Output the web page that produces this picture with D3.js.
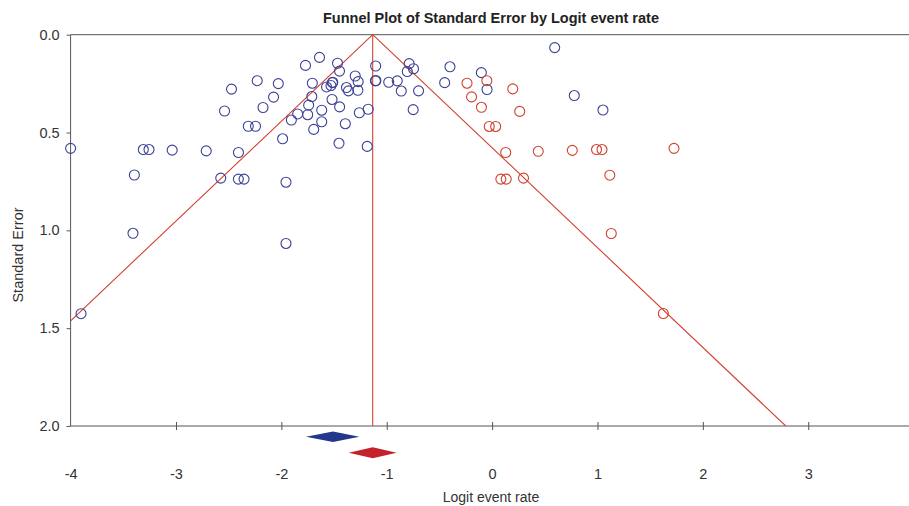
<!DOCTYPE html>
<html>
<head>
<meta charset="utf-8">
<script src="https://cdn.jsdelivr.net/npm/d3@7"></script>
<style>
  body { margin: 0; background: #fff; }
  svg { font-family: "Liberation Sans", Arial, sans-serif; }
  .tick text { fill: #333; font-size: 14.5px; }
  .domain, .tick line { stroke: #555; }
</style>
</head>
<body>
<svg id="chart"></svg>
<script>
// observed studies: [logit event rate, standard error]
const observed = [
  [-4.00, 0.581], [-3.395, 0.717], [-3.310, 0.587], [-3.256, 0.587], [-3.036, 0.590],
  [-2.713, 0.594], [-2.407, 0.602], [-2.575, 0.733], [-2.408, 0.738], [-2.354, 0.738],
  [-3.408, 1.015], [-1.956, 1.067], [-1.956, 0.754], [-1.988, 0.532], [-2.314, 0.468],
  [-2.245, 0.468], [-2.539, 0.390], [-2.473, 0.278], [-2.229, 0.235], [-2.029, 0.250],
  [-2.174, 0.372], [-2.074, 0.319], [-1.771, 0.157], [-1.638, 0.116], [-1.467, 0.146],
  [-1.448, 0.186], [-1.706, 0.248], [-1.711, 0.316], [-1.741, 0.360], [-1.750, 0.409],
  [-1.845, 0.405], [-1.905, 0.436], [-1.617, 0.386], [-1.617, 0.445], [-1.693, 0.484],
  [-1.571, 0.267], [-1.516, 0.245], [-1.512, 0.243], [-1.529, 0.260], [-1.519, 0.331],
  [-1.447, 0.369], [-1.393, 0.455], [-1.453, 0.555], [-1.299, 0.211], [-1.271, 0.240],
  [-1.382, 0.270], [-1.363, 0.287], [-1.274, 0.284], [-1.260, 0.399], [-1.176, 0.381],
  [-1.185, 0.571], [-1.105, 0.160], [-1.107, 0.236], [-1.103, 0.234], [-0.981, 0.243],
  [-0.900, 0.236], [-0.862, 0.288], [-0.805, 0.188], [-0.787, 0.148], [-0.746, 0.174],
  [-0.698, 0.287], [-0.749, 0.383], [-0.450, 0.245], [-0.400, 0.164], [0.594, 0.066],
  [-0.102, 0.194], [-0.048, 0.280], [0.780, 0.311], [1.052, 0.385], [-3.901, 1.426]
];

// imputed studies (trim and fill)
const imputed = [
  [-0.238, 0.248], [-0.050, 0.235], [0.196, 0.277], [-0.195, 0.318], [-0.101, 0.371],
  [0.262, 0.392], [-0.027, 0.469], [0.034, 0.469], [0.129, 0.602], [0.438, 0.596],
  [0.761, 0.591], [0.991, 0.587], [1.043, 0.587], [1.726, 0.581], [0.083, 0.738],
  [0.134, 0.738], [0.298, 0.733], [1.117, 0.718], [1.131, 1.016], [1.625, 1.425]
];

// summary estimates: [lower, point, upper]
const observedSummary = [-1.766, -1.510, -1.260];
const adjustedSummary = [-1.361, -1.133, -0.905];

const xTicks = [-4, -3, -2, -1, 0, 1, 2, 3];
const yTicks = [0, 0.5, 1.0, 1.5, 2.0];

const W = 909, H = 506;
const margin = { top: 34.7, left: 70.6 };
const width = 843;
const height = 391.3;

const x = d3.scaleLinear().domain([-4, 4]).range([0, width]);
const y = d3.scaleLinear().domain([0, 2]).range([0, height]);

const svg = d3.select('#chart')
  .attr('width', W)
  .attr('height', H);

const g = svg.append('g')
  .attr('transform', `translate(${margin.left},${margin.top})`);

svg.append('defs').append('clipPath')
  .attr('id', 'plot-clip')
  .append('rect')
  .attr('width', width)
  .attr('height', height);

// Title
svg.append('text')
  .attr('x', 491)
  .attr('y', 23)
  .attr('text-anchor', 'middle')
  .style('font-size', '14.5px')
  .style('font-weight', 'bold')
  .style('fill', '#222')
  .text('Funnel Plot of Standard Error by Logit event rate');

// top border
g.append('line')
  .attr('x1', 0).attr('x2', width)
  .attr('y1', 0).attr('y2', 0)
  .attr('stroke', '#555');

// Axes
const yAxis = d3.axisLeft(y)
  .tickValues(yTicks)
  .tickSize(4)
  .tickPadding(7)
  .tickFormat(d3.format('.1f'));

g.append('g')
  .call(yAxis)
  .call(a => a.select('.domain').attr('d', `M0,0V${height}`));

const xAxis = d3.axisBottom(x)
  .tickValues(xTicks)
  .tickSize(0)
  .tickPadding(48)
  .tickFormat(d => d);

const xAxisG = g.append('g')
  .attr('transform', `translate(0,${height})`)
  .call(xAxis)
  .call(a => a.select('.domain').attr('d', `M0,0H${width}`));

// ticks crossing the x axis
xAxisG.selectAll('.tick').filter(d => d !== -4)
  .append('line')
  .attr('y1', -4)
  .attr('y2', 4);
xAxisG.selectAll('.tick text').attr('dy', '0.32em');

// Axis titles
svg.append('text')
  .attr('x', 491)
  .attr('y', 502)
  .attr('text-anchor', 'middle')
  .style('font-size', '14px')
  .style('fill', '#333')
  .text('Logit event rate');

svg.append('text')
  .attr('transform', 'translate(23,255) rotate(-90)')
  .attr('text-anchor', 'middle')
  .style('font-size', '14.5px')
  .style('fill', '#333')
  .text('Standard Error');

// Funnel
const center = adjustedSummary[1];
const funnel = g.append('g').attr('clip-path', 'url(#plot-clip)');
const funnelColor = '#d2412f';

funnel.append('line')
  .attr('x1', x(center)).attr('x2', x(center))
  .attr('y1', y(0)).attr('y2', y(2))
  .attr('stroke', funnelColor)
  .attr('stroke-width', 1.1);

[-1, 1].forEach(sign => {
  funnel.append('line')
    .attr('x1', x(center)).attr('y1', y(0))
    .attr('x2', x(center + sign * 1.96 * 2)).attr('y2', y(2))
    .attr('stroke', funnelColor)
    .attr('stroke-width', 1.1);
});

// Points
g.selectAll('.obs')
  .data(observed)
  .join('circle')
  .attr('class', 'obs')
  .attr('cx', d => x(d[0]))
  .attr('cy', d => y(d[1]))
  .attr('r', 5)
  .attr('fill', 'none')
  .attr('stroke', '#3d4197')
  .attr('stroke-width', 1.1);

g.selectAll('.imp')
  .data(imputed)
  .join('circle')
  .attr('class', 'imp')
  .attr('cx', d => x(d[0]))
  .attr('cy', d => y(d[1]))
  .attr('r', 5)
  .attr('fill', 'none')
  .attr('stroke', '#d2412f')
  .attr('stroke-width', 1.1);

// Summary diamonds
const diamond = (s, yPos, hh) =>
  `M${x(s[0])},${yPos}L${x(s[1])},${yPos - hh}L${x(s[2])},${yPos}L${x(s[1])},${yPos + hh}Z`;

g.append('path')
  .attr('d', diamond(observedSummary, height + 10.7, 5.3))
  .attr('fill', '#22388a');

g.append('path')
  .attr('d', diamond(adjustedSummary, height + 26.8, 5.5))
  .attr('fill', '#c3222b');
</script>
</body>
</html>
